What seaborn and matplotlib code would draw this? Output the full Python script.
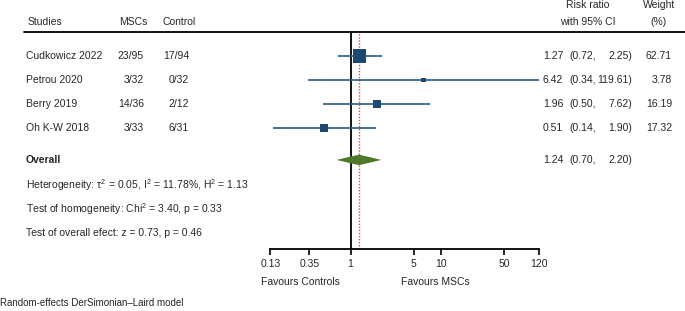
import numpy as np
import pandas as pd
import matplotlib
matplotlib.use("Agg")
import matplotlib.pyplot as plt
import seaborn as sns

# data
studies = ["Cudkowicz 2022", "Petrou 2020", "Berry 2019", "Oh K-W 2018"]
mscs = ["23/95", "3/32", "14/36", "3/33"]
control = ["17/94", "0/32", "2/12", "6/31"]
rr = [1.27, 6.42, 1.96, 0.51]
ci_low = [0.72, 0.34, 0.50, 0.14]
ci_high = [2.25, 119.61, 7.62, 1.90]
weight = [62.71, 3.78, 16.19, 17.32]

overall_rr = 1.24
overall_low = 0.70
overall_high = 2.20

ticks = [0.13, 0.35, 1, 5, 10, 50, 120]
tick_labels = ["0.13", "0.35", "1", "5", "10", "50", "120"]

notes = [
    r"Heterogeneity: $\tau^2$ = 0.05, I$^2$ = 11.78%, H$^2$ = 1.13",
    r"Test of homogeneity: Chi$^2$ = 3.40, p = 0.33",
    "Test of overall efect: z = 0.73, p = 0.46",
]

df = pd.DataFrame({"study": studies, "rr": rr, "lo": ci_low, "hi": ci_high,
                   "weight": weight})
df["row"] = np.arange(len(df))
overall_row = 4.33

sns.set_theme(style="white")
plt.rcParams["font.family"] = ["Liberation Sans", "DejaVu Sans"]
plt.rcParams["mathtext.fontset"] = "custom"
plt.rcParams["mathtext.rm"] = "Liberation Sans"
plt.rcParams["mathtext.it"] = "Liberation Sans"

W, H = 685, 311
fig = plt.figure(figsize=(W / 100, H / 100), dpi=100)

# overlay axes in pixel coordinates for the table text
ax0 = fig.add_axes([0, 0, 1, 1])
ax0.set_xlim(0, W)
ax0.set_ylim(H, 0)
ax0.axis("off")

# forest axes
x0, x1 = 270.3, 538.7
ytop, ybot = 32, 249.3
ax = fig.add_axes([x0 / W, 1 - ybot / H, (x1 - x0) / W, (ybot - ytop) / H])
ax.set_xscale("log")
ax.set_xlim(0.13, 120)
row_h = 24.0
ax.set_ylim((ybot - 56) / row_h, (ytop - 56) / row_h)
ax.patch.set_alpha(0)

line_col = "#2a5a86"
sq_col = "#1a4a72"
dia_col = "#50782a"

ax.hlines(df["row"], df["lo"], df["hi"], color=line_col, lw=1.2, zorder=2)
sns.scatterplot(data=df, x="rr", y="row", size="weight", sizes=(10, 90),
                marker="s", color=sq_col, edgecolor="none", legend=False,
                ax=ax, zorder=3)

# overall diamond
dh = 0.22
ax.fill([overall_low, overall_rr, overall_high, overall_rr],
        [overall_row, overall_row - dh, overall_row, overall_row + dh],
        color=dia_col, lw=0, zorder=3)

ax.axvline(1, color="black", lw=1.3, zorder=1)
ax.axvline(overall_rr, color="#e04848", lw=1.0, ls=(0, (1, 1.2)), zorder=1)

for s in ["top", "right", "left"]:
    ax.spines[s].set_visible(False)
ax.spines["bottom"].set_color("black")
ax.spines["bottom"].set_linewidth(1.3)
ax.set_xticks(ticks)
ax.set_xticklabels(tick_labels, fontsize=7.5)
ax.minorticks_off()
ax.tick_params(axis="x", direction="out", length=4, width=1.2, color="black",
               pad=3, bottom=True)
ax.set_yticks([])
ax.set_xlabel("")
ax.set_ylabel("")

fs = 7.5
# header
ax0.plot([24, W], [32, 32], color="black", lw=1.3)
ax0.text(28, 22, "Studies", fontsize=fs, va="center")
ax0.text(148, 22, "MSCs", fontsize=fs, va="center", ha="right")
ax0.text(163, 22, "Control", fontsize=fs, va="center")
ax0.text(588, 5.5, "Risk ratio", fontsize=fs, va="center", ha="center")
ax0.text(588, 22, "with 95% CI", fontsize=fs, va="center", ha="center")
ax0.text(659, 5.5, "Weight", fontsize=fs, va="center", ha="center")
ax0.text(659, 22, "(%)", fontsize=fs, va="center", ha="center")

for i in range(len(studies)):
    y = 56 + row_h * i
    ax0.text(26, y, studies[i], fontsize=fs, va="center")
    ax0.text(144, y, mscs[i], fontsize=fs, va="center", ha="right")
    ax0.text(189, y, control[i], fontsize=fs, va="center", ha="right")
    ax0.text(543, y, f"{rr[i]:.2f}", fontsize=fs, va="center")
    ax0.text(569, y, f"({ci_low[i]:.2f},", fontsize=fs, va="center")
    ax0.text(632, y, f"{ci_high[i]:.2f})", fontsize=fs, va="center", ha="right")
    ax0.text(672, y, f"{weight[i]:.2f}", fontsize=fs, va="center", ha="right")

y = 56 + row_h * overall_row
ax0.text(26, y, "Overall", fontsize=fs, va="center", fontweight="bold")
ax0.text(543, y, f"{overall_rr:.2f}", fontsize=fs, va="center")
ax0.text(569, y, f"({overall_low:.2f},", fontsize=fs, va="center")
ax0.text(632, y, f"{overall_high:.2f})", fontsize=fs, va="center", ha="right")

for j, note in enumerate(notes):
    ax0.text(26, 185 + 24 * j, note, fontsize=fs, va="center")

ax0.text(261, 282, "Favours Controls", fontsize=fs, va="center")
ax0.text(401, 282, "Favours MSCs", fontsize=fs, va="center")
ax0.text(0, 303, "Random-effects DerSimonian\u2013Laird model", fontsize=7,
         va="center")

fig.savefig("out.png", dpi=100)
